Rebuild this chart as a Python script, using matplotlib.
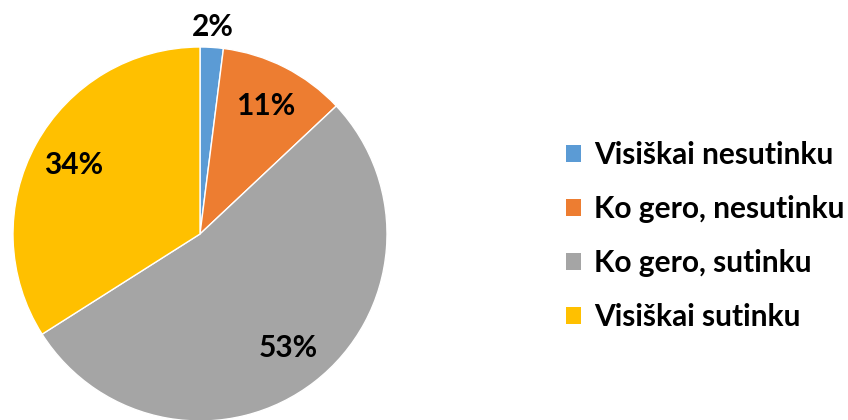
import numpy as np
import matplotlib.pyplot as plt
from matplotlib.patches import Patch

labels = ['Visiškai nesutinku', 'Ko gero, nesutinku', 'Ko gero, sutinku', 'Visiškai sutinku']
values = [2, 11, 53, 34]
colors = ['#5B9BD5', '#ED7D31', '#A5A5A5', '#FFC000']

plt.rcParams['font.family'] = ['Lato', 'DejaVu Sans']

W, H = 848, 420
fig = plt.figure(figsize=(W / 100, H / 100), dpi=100)

# pie centre (200, 234) px from top, radius 187 px
cx, cy, r = 200, H - 234, 187
ax = fig.add_axes([(cx - r) / W, (cy - r) / H, 2 * r / W, 2 * r / H])

wedges, texts, autotexts = ax.pie(values, colors=colors, startangle=90, counterclock=False,
                                  radius=1, autopct='%1.0f%%', pctdistance=0.77,
                                  wedgeprops=dict(edgecolor='white', linewidth=1),
                                  textprops=dict(fontsize=21.5, fontweight='bold', color='black'))
ax.set_xlim(-1, 1)
ax.set_ylim(-1, 1)
ax.set_aspect('equal')
ax.axis('off')
for w in wedges:
    w.set_clip_on(False)

# small slice label goes outside
w = wedges[0]
ang = np.deg2rad((w.theta1 + w.theta2) / 2)
autotexts[0].set_position((1.11 * np.cos(ang), 1.11 * np.sin(ang)))
autotexts[0].set_clip_on(False)

handles = [Patch(facecolor=c, edgecolor='none') for c in colors]
fig.legend(handles, labels, loc='center left', bbox_to_anchor=(566 / W, 1 - 236 / H),
           frameon=False, prop=dict(size=21.5, weight='bold'),
           handlelength=0.5, handleheight=0.5, handletextpad=0.45, labelspacing=0.87,
           borderaxespad=0, borderpad=0)

fig.savefig('out.png', dpi=100)
